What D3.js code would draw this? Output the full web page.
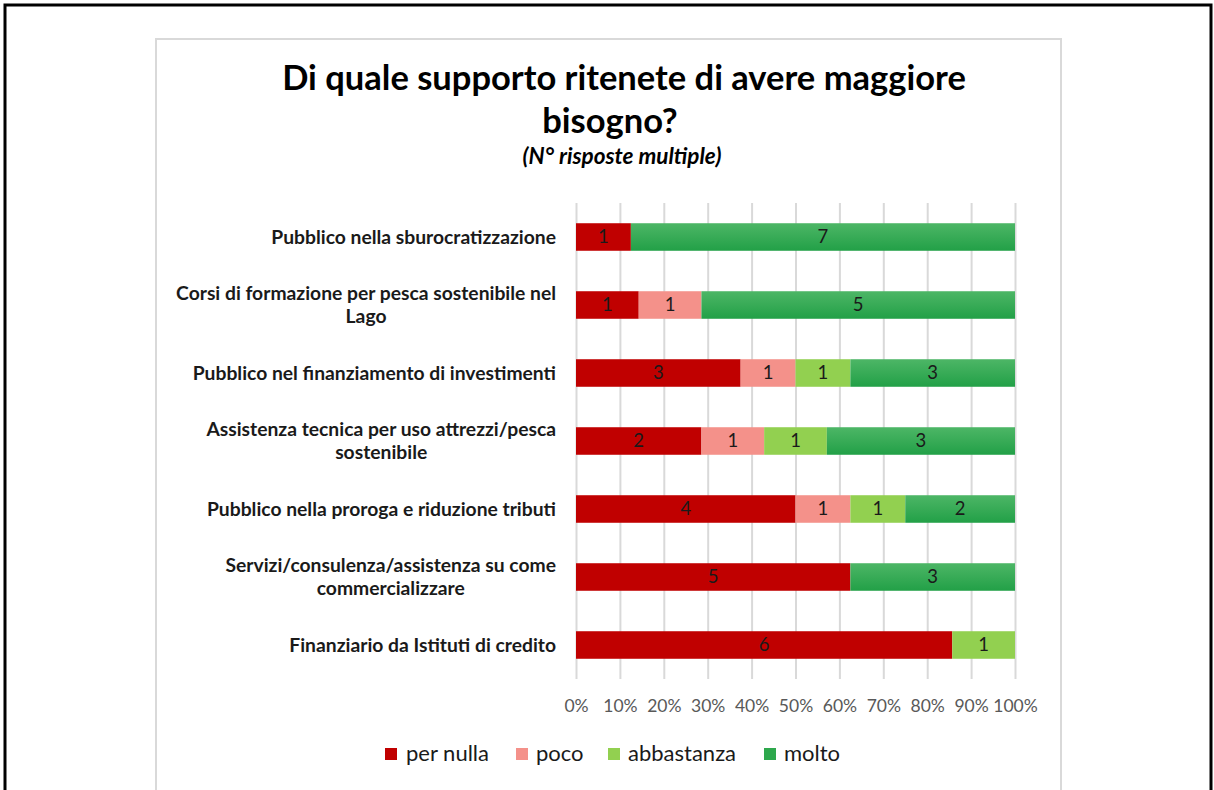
<!DOCTYPE html>
<html>
<head>
<meta charset="utf-8">
<script src="https://cdn.jsdelivr.net/npm/d3@7"></script>
<style>
  html, body { margin: 0; padding: 0; background: #fff; }
  svg { display: block; }
  text { font-family: Lato, "Open Sans", sans-serif; }
</style>
</head>
<body>
<svg id="chart" width="1214" height="790"></svg>
<script>
// Support categories (top to bottom), each label split into its wrapped lines
const categories = [
  ["Pubblico nella sburocratizzazione"],
  ["Corsi di formazione per pesca sostenibile nel", "Lago"],
  ["Pubblico nel finanziamento di investimenti"],
  ["Assistenza tecnica per uso attrezzi/pesca", "sostenibile"],
  ["Pubblico nella proroga e riduzione tributi"],
  ["Servizi/consulenza/assistenza su come", "commercializzare"],
  ["Finanziario da Istituti di credito"]
];

// Number of answers per level of need
const seriesNames = ["per nulla", "poco", "abbastanza", "molto"];
const perNulla   = [1, 1, 3, 2, 4, 5, 6];
const poco       = [0, 1, 1, 1, 1, 0, 0];
const abbastanza = [0, 0, 1, 1, 1, 0, 1];
const molto      = [7, 5, 3, 3, 2, 3, 0];

const tickLabels = ["0%", "10%", "20%", "30%", "40%", "50%", "60%", "70%", "80%", "90%", "100%"];

const colors = ["#C00000", "#F4918A", "#92D050", "url(#moltoGrad)"];
const legendColors = ["#C00000", "#F4918A", "#92D050", "#2EA84D"];

const svg = d3.select("#chart");

// gradient used for the "molto" segments
const defs = svg.append("defs");
const grad = defs.append("linearGradient").attr("id", "moltoGrad")
  .attr("x1", 0).attr("y1", 0).attr("x2", 0).attr("y2", 1);
grad.append("stop").attr("offset", "0%").attr("stop-color", "#4DB666");
grad.append("stop").attr("offset", "100%").attr("stop-color", "#22A047");

// outer frame and chart area border
svg.append("rect").attr("x", 5).attr("y", 5).attr("width", 1206).attr("height", 820)
  .attr("fill", "#fff").attr("stroke", "#000").attr("stroke-width", 3);
svg.append("rect").attr("x", 156).attr("y", 39).attr("width", 905).attr("height", 760)
  .attr("fill", "#fff").attr("stroke", "#D9D9D9").attr("stroke-width", 2);

// titles
svg.append("text").attr("x", 624).attr("y", 90).attr("text-anchor", "middle")
  .attr("font-size", 34.5).attr("font-weight", 700).attr("fill", "#000")
  .text("Di quale supporto ritenete di avere maggiore");
svg.append("text").attr("x", 610).attr("y", 133).attr("text-anchor", "middle")
  .attr("font-size", 34.5).attr("font-weight", 700).attr("fill", "#000")
  .text("bisogno?");
svg.append("text").attr("x", 622).attr("y", 164).attr("text-anchor", "middle")
  .attr("font-size", 22.5).attr("font-weight", 700).attr("font-style", "italic").attr("fill", "#000")
  .text("(N° risposte multiple)");

// scales
const x = d3.scaleLinear().domain([0, 1]).range([576, 1015]);
const y = d3.scaleBand().domain(d3.range(categories.length)).range([203, 679]).paddingInner(0.595).paddingOuter(0.2975);

// rows with cumulative shares
const table = categories.map((c, i) => ({
  label: c,
  values: [perNulla[i], poco[i], abbastanza[i], molto[i]]
}));
table.forEach(r => {
  r.total = d3.sum(r.values);
  let acc = 0;
  r.segs = r.values.map((v, k) => {
    const s = { k, v, x0: acc / r.total, x1: (acc + v) / r.total };
    acc += v;
    return s;
  });
});

// vertical gridlines and percentage ticks
const grid = svg.append("g")
  .attr("transform", "translate(0,679)")
  .call(d3.axisBottom(x).tickValues(d3.range(0, 1.0001, 0.1)).tickSize(-476).tickFormat((d, i) => tickLabels[i]));
grid.select(".domain").remove();
grid.selectAll(".tick line").attr("stroke", "#D9D9D9").attr("stroke-width", 2);
grid.selectAll(".tick text").attr("fill", "#595959").attr("font-size", 17.5)
  .attr("font-family", "Lato, 'Open Sans', sans-serif").attr("dy", 0).attr("y", 33);

// bars
const rows = svg.append("g").selectAll("g").data(table).join("g")
  .attr("transform", (d, i) => `translate(0,${y(i)})`);
rows.selectAll("rect").data(d => d.segs.filter(s => s.v > 0)).join("rect")
  .attr("x", s => x(s.x0)).attr("width", s => x(s.x1) - x(s.x0))
  .attr("y", 0).attr("height", y.bandwidth())
  .attr("fill", s => colors[s.k]);
rows.selectAll("text.val").data(d => d.segs.filter(s => s.v > 0)).join("text")
  .attr("class", "val")
  .attr("x", s => (x(s.x0) + x(s.x1)) / 2).attr("y", y.bandwidth() / 2 + 6.5)
  .attr("text-anchor", "middle").attr("font-size", 18.5).attr("fill", "#1A1A1A")
  .text(s => s.v);

// category labels: block right-aligned, lines centered within the block
const labelRight = 556;
table.forEach((r, i) => {
  const g = svg.append("g");
  const lh = 23;
  const cy = y(i) + y.bandwidth() / 2;
  const n = r.label.length;
  const texts = r.label.map((line, j) => g.append("text")
    .attr("y", cy + 6.5 + (j - (n - 1) / 2) * lh)
    .attr("font-size", 19.3).attr("font-weight", 700).attr("fill", "#1A1A1A")
    .attr("text-anchor", "middle")
    .text(line));
  const maxW = d3.max(texts, t => t.node().getComputedTextLength());
  texts.forEach(t => t.attr("x", labelRight - maxW / 2));
});

// legend
const legendItems = [
  { sq: 385, tx: 406 },
  { sq: 516, tx: 536 },
  { sq: 608, tx: 628 },
  { sq: 764, tx: 784 }
];
const lg = svg.append("g");
seriesNames.forEach((name, k) => {
  lg.append("rect").attr("x", legendItems[k].sq).attr("y", 748).attr("width", 12).attr("height", 12)
    .attr("fill", legendColors[k]);
  lg.append("text").attr("x", legendItems[k].tx).attr("y", 761)
    .attr("font-size", 22).attr("fill", "#1A1A1A").text(name);
});
</script>
</body>
</html>
